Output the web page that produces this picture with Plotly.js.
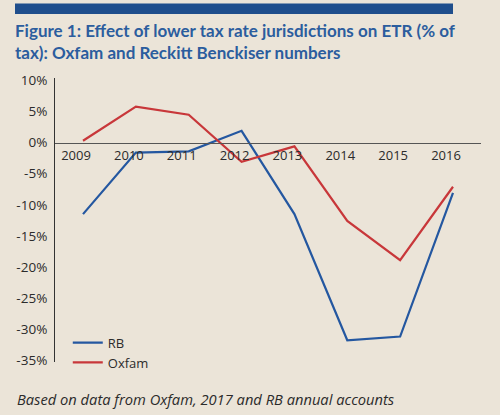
<!DOCTYPE html>
<html>
<head>
<meta charset="utf-8">
<script src="https://cdn.plot.ly/plotly-3.0.1.min.js"></script>
<style>
  html, body { margin: 0; padding: 0; background: #ebe4d8; }
  #chart { width: 500px; height: 419px; }
</style>
</head>
<body>
<div id="chart"></div>
<script>
const years = [2009, 2010, 2011, 2012, 2013, 2014, 2015, 2016]
const rbValues = [-11.5, -1.6, -1.4, 1.9, -11.5, -31.8, -31.2, -8.1]
const oxfamValues = [0.3, 5.8, 4.5, -3.1, -0.6, -12.6, -18.9, -7.1]
const yTickVals = [10, 5, 0, -5, -10, -15, -20, -25, -30, -35]
const yTickText = ['10%', '5%', '0%', '-5%', '-10%', '-15%', '-20%', '-25%', '-30%', '-35%']

const BG = '#ebe4d8'
const TEXT = '#2b2b2b'
const yRange = [-35.3, 10.4]
// where y = 0 sits inside the plot, so the year axis can ride on it
const zeroPos = (0 - yRange[0]) / (yRange[1] - yRange[0])

let data = [
  {
    x: years,
    y: rbValues,
    name: 'RB',
    type: 'scatter',
    mode: 'lines',
    line: { color: '#2457a0', width: 2.2 }
  },
  {
    x: years,
    y: oxfamValues,
    name: 'Oxfam',
    type: 'scatter',
    mode: 'lines',
    line: { color: '#c8373a', width: 2.2 }
  }
]

let layout = {
  width: 500,
  height: 419,
  paper_bgcolor: BG,
  plot_bgcolor: BG,
  font: { family: '"Open Sans", sans-serif', size: 13, color: TEXT },
  margin: { l: 55, r: 19, t: 78, b: 57 },
  title: {
    text: '<b>Figure 1: Effect of lower tax rate jurisdictions on ETR (% of</b><br><b>tax): Oxfam and Reckitt Benckiser numbers</b>',
    font: { family: 'Lato, sans-serif', size: 17, color: '#2b5d9e' },
    x: 15 / 500,
    xref: 'container',
    xanchor: 'left',
    y: 1 - 37 / 419,
    yref: 'container',
    yanchor: 'top'
  },
  xaxis: {
    range: [2008.47, 2016.53],
    tickvals: years,
    ticktext: years.map(String),
    anchor: 'free',
    position: zeroPos,
    showgrid: false,
    zeroline: false,
    showline: true,
    linecolor: '#555',
    linewidth: 1,
    ticks: '',
    ticklabelshift: -7,
    ticklabelstandoff: 1,
    fixedrange: true
  },
  yaxis: {
    range: yRange,
    tickvals: yTickVals,
    ticktext: yTickText,
    tickfont: { size: 13.5 },
    showgrid: false,
    zeroline: false,
    showline: true,
    linecolor: '#333',
    linewidth: 1,
    ticks: '',
    ticklabelstandoff: 4,
    fixedrange: true
  },
  showlegend: true,
  legend: {
    x: 0.03,
    xanchor: 'left',
    y: -0.055,
    yanchor: 'bottom',
    bgcolor: 'rgba(0,0,0,0)',
    font: { size: 13, color: TEXT },
    itemwidth: 30,
    tracegroupgap: 0
  },
  shapes: [
    {
      type: 'rect',
      xref: 'paper', yref: 'paper',
      x0: (15 - 55) / 426, x1: (453 - 55) / 426,
      y0: (362 - 14) / 284, y1: (362 - 3.5) / 284,
      fillcolor: '#1f4e8c',
      line: { width: 0 }
    },
    {
      type: 'rect',
      xref: 'paper', yref: 'paper',
      x0: -0.2, x1: 1.1,
      y0: (362 - 420) / 284, y1: (362 - 415) / 284,
      fillcolor: '#ffffff',
      line: { width: 0 }
    }
  ],
  annotations: [
    {
      text: '<i>Based on data from Oxfam, 2017 and RB annual accounts</i>',
      xref: 'paper', yref: 'paper',
      x: (15 - 55) / 426,
      xanchor: 'left',
      y: (362 - 399) / 284,
      yanchor: 'middle',
      showarrow: false,
      font: { size: 14.7, color: TEXT }
    }
  ]
}

let config = {
  displayModeBar: false,
  responsive: false
}

Plotly.newPlot('chart', data, layout, config)
</script>
</body>
</html>
